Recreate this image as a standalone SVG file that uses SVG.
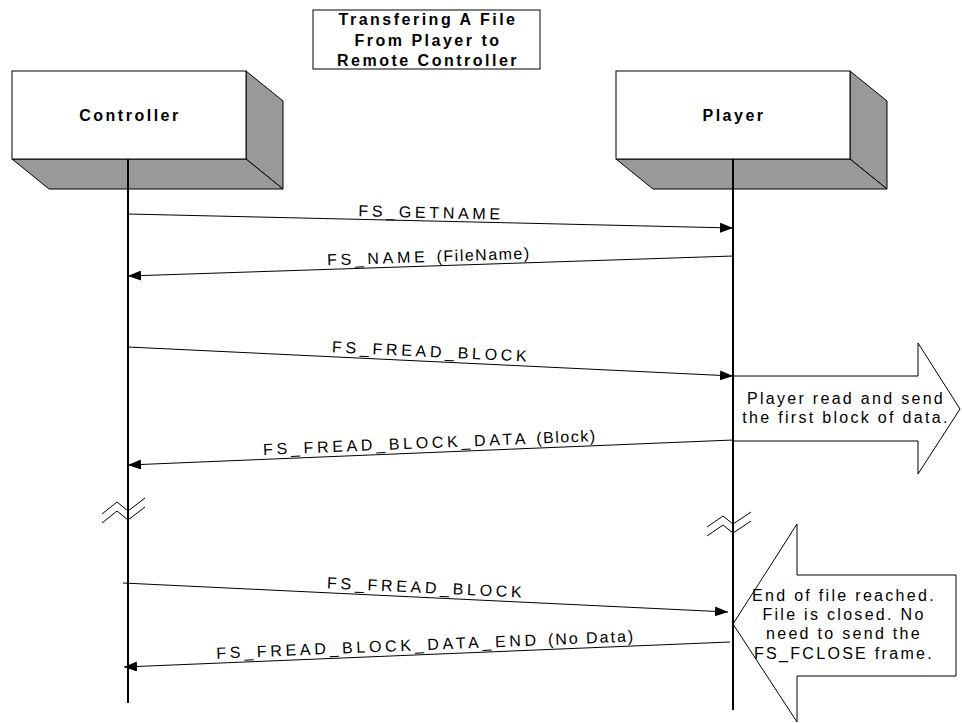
<svg xmlns="http://www.w3.org/2000/svg" width="962" height="723" viewBox="0 0 962 723">
<defs>
<marker id="ah" markerWidth="13" markerHeight="10" refX="13" refY="5" orient="auto" markerUnits="userSpaceOnUse">
<path d="M0,0 L13,5 L0,10 Z" fill="#000"/>
</marker>
<style>
.face{fill:#fff;stroke:#000;stroke-width:1}
.shade{fill:#999;stroke:#000;stroke-width:1;stroke-linejoin:round}
.life{stroke:#000;stroke-width:2;fill:none}
.msg{stroke:#000;stroke-width:1;fill:none;marker-end:url(#ah)}
.brk{stroke:#000;stroke-width:1;fill:none}
.note{fill:#fff;stroke:#000;stroke-width:1}
.bt{font-family:"Liberation Sans",Arial,sans-serif;font-weight:bold;font-size:16px;letter-spacing:2.5px;text-anchor:middle;fill:#000}
.lb{font-family:"Liberation Sans",Arial,sans-serif;font-size:16px;letter-spacing:3.7px;text-anchor:middle;fill:#000}
.nt{font-family:"Liberation Sans",Arial,sans-serif;font-size:16px;letter-spacing:2.3px;text-anchor:middle;fill:#000}
.par{letter-spacing:1.5px}
</style>
</defs>
<rect width="962" height="723" fill="#fff"/>

<g id="title">
<rect x="313" y="10" width="227" height="59" fill="#fff" stroke="#000" stroke-width="1"/>
<text class="bt" x="428" y="25">Transfering A File</text>
<text class="bt" x="428" y="46">From Player to</text>
<text class="bt" x="428" y="66">Remote Controller</text>
</g>

<g id="controller">
<polygon class="shade" points="246,71 283,101 283,189 246,159"/>
<polygon class="shade" points="12,159 246,159 283,189 49,189"/>
<rect class="face" x="12" y="71" width="234" height="88"/>
<text class="bt" x="130" y="121">Controller</text>
<line class="life" x1="128" y1="159" x2="128" y2="703"/>
</g>

<g id="player">
<polygon class="shade" points="850,71 887,101 887,189 850,159"/>
<polygon class="shade" points="616,159 850,159 887,189 653,189"/>
<rect class="face" x="616" y="71" width="234" height="88"/>
<text class="bt" x="734" y="121">Player</text>
</g>

<g id="note-read">
<polygon class="note" points="733,376 918,376 918,343 960,409 918,474 918,441 733,441"/>
<text class="nt" x="846" y="404">Player read and send</text>
<text class="nt" x="846" y="423">the first block of data.</text>
</g>

<g id="note-end">
<polygon class="note" points="733,624 797,524 797,575 956,575 956,676 797,676 797,722"/>
<text class="nt" x="844" y="601">End of file reached.</text>
<text class="nt" x="844" y="620">File is closed. No</text>
<text class="nt" x="844" y="639">need to send the</text>
<text class="nt" x="844" y="659">FS_FCLOSE frame.</text>
</g>

<g id="player-lifeline">
<line class="life" x1="733" y1="159" x2="733" y2="710"/>
</g>

<g id="breaks">
<polyline class="brk" points="102,514 117,502 128,511 145,498"/>
<polyline class="brk" points="102,523 117,511 128,520 145,507"/>
<polyline class="brk" points="707,527 723,516 733,524 751,512"/>
<polyline class="brk" points="707,536 723,525 733,533 751,521"/>
</g>

<g id="connectors">
<line class="msg" x1="128" y1="214" x2="733" y2="228"/>
<text class="lb" transform="translate(431,218) rotate(1.33)">FS_GETNAME</text>
<line class="msg" x1="733" y1="256" x2="128" y2="276"/>
<text class="lb" transform="translate(429,262) rotate(-1.89)">FS_NAME <tspan class="par">(FileName)</tspan></text>
<line class="msg" x1="128" y1="347" x2="733" y2="376"/>
<text class="lb" transform="translate(431,357) rotate(2.75)">FS_FREAD_BLOCK</text>
<line class="msg" x1="733" y1="440" x2="128" y2="465"/>
<text class="lb" transform="translate(430,448) rotate(-2.37)">FS_FREAD_BLOCK_DATA <tspan class="par">(Block)</tspan></text>
<line class="msg" x1="123" y1="583" x2="728" y2="612"/>
<text class="lb" transform="translate(426,593) rotate(2.75)">FS_FREAD_BLOCK</text>
<line class="msg" x1="730" y1="642" x2="124" y2="667"/>
<text class="lb" transform="translate(426,650) rotate(-2.36)">FS_FREAD_BLOCK_DATA_END <tspan style="letter-spacing:2px">(No Data)</tspan></text>
</g>
</svg>
